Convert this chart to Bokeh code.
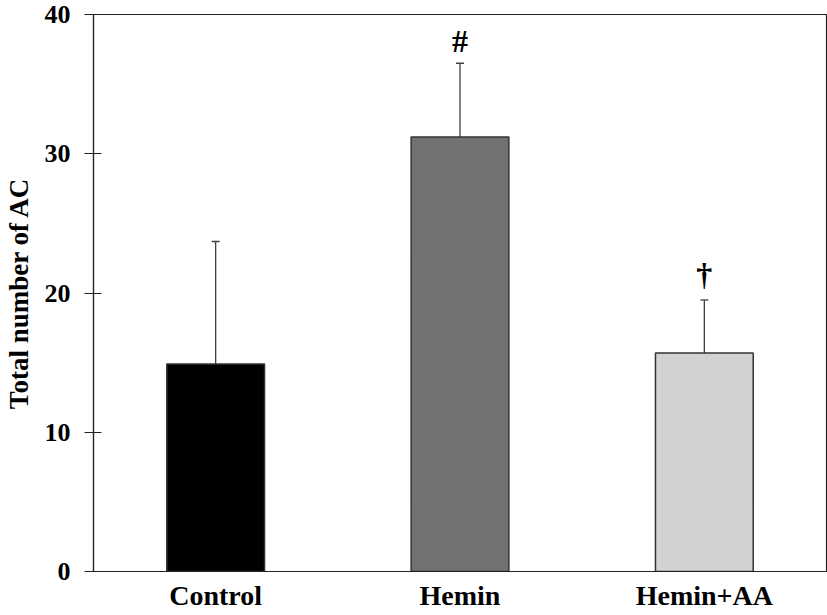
from bokeh.plotting import figure
from bokeh.models import ColumnDataSource, FactorRange, Range1d, Whisker, TeeHead, FixedTicker
from bokeh.core.properties import value
from bokeh.embed import file_html
from bokeh.resources import INLINE

groups = ["Control", "Hemin", "Hemin+AA"]
means = [14.9, 31.2, 15.7]
sds = [8.8, 5.3, 3.8]
colors = ["#000000", "#727272", "#d2d2d2"]
marks = ["", "#", "\u2020"]
mark_y = [0, 38.1, 21.4]
y_ticks = [0, 10, 20, 30, 40]

upper = [m + s for m, s in zip(means, sds)]
src = ColumnDataSource(dict(g=groups, m=means, u=upper, c=colors))
msrc = ColumnDataSource(dict(g=groups, t=marks, y=mark_y))

FONT = "Liberation Serif"

p = figure(x_range=FactorRange(*groups, range_padding=0), y_range=Range1d(0, 40),
           width=827, height=615, output_backend="svg", toolbar_location=None,
           min_border_left=92, min_border_right=1, min_border_top=14, min_border_bottom=44)
p.background_fill_color = "white"
p.border_fill_color = "white"
p.outline_line_color = "#222222"
p.outline_line_width = 1.2
p.xgrid.visible = False
p.ygrid.visible = False

p.vbar(x="g", top="m", bottom=0, width=0.4, source=src, fill_color="c",
       line_color="#333333", line_width=1.5)

w = Whisker(base="g", lower="m", upper="u", source=src,
            line_color="#404040", line_width=1.3,
            upper_head=TeeHead(size=8, line_color="#404040", line_width=1.3),
            lower_head=None)
p.add_layout(w)

p.text(x="g", y="y", text="t", source=msrc, text_align="center", text_baseline="middle",
       text_font=value(FONT), text_font_style="bold", text_font_size="32px", text_color="black")

p.yaxis.ticker = FixedTicker(ticks=y_ticks)
p.yaxis.axis_label = "Total number of AC"
p.yaxis.axis_label_text_font = FONT
p.yaxis.axis_label_text_font_style = "bold"
p.yaxis.axis_label_text_font_size = "27px"
p.yaxis.axis_label_text_color = "black"
p.yaxis.axis_label_standoff = 8
p.yaxis.major_label_text_font = FONT
p.yaxis.major_label_text_font_style = "bold"
p.yaxis.major_label_text_font_size = "26px"
p.yaxis.major_label_text_color = "black"
p.yaxis.major_label_standoff = 14
p.yaxis.major_tick_in = 8
p.yaxis.major_tick_out = 9
p.yaxis.minor_tick_line_color = None
p.yaxis.axis_line_color = "#222222"
p.yaxis.major_tick_line_color = "#222222"
p.yaxis.axis_line_width = 1.2

p.xaxis.major_label_text_font = FONT
p.xaxis.major_label_text_font_style = "bold"
p.xaxis.major_label_text_font_size = "28px"
p.xaxis.major_label_text_color = "black"
p.xaxis.major_tick_line_color = None
p.xaxis.major_tick_in = 0
p.xaxis.major_tick_out = 0
p.xaxis.major_label_standoff = 8
p.xaxis.axis_line_color = "#222222"
p.xaxis.axis_line_width = 1.2

open("out.html", "w").write(file_html(p, INLINE))
